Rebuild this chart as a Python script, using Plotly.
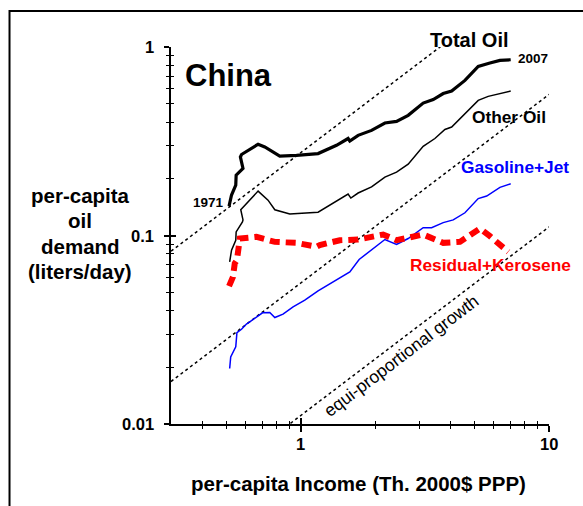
import math
import plotly.graph_objects as go

# ---------------- data ----------------
total_income = [0.514, 0.526, 0.547, 0.549, 0.585, 0.571, 0.577, 0.673, 0.716, 0.762,
                0.823, 0.961, 1.174, 1.393, 1.551, 1.576, 1.702, 1.928, 2.182, 2.431,
                2.708, 3.112, 3.416, 3.748, 4.053, 4.585, 5.186, 5.781, 6.344, 7.010]
total_oil = [0.143, 0.164, 0.185, 0.209, 0.227, 0.261, 0.269, 0.305, 0.295, 0.280,
             0.264, 0.266, 0.272, 0.301, 0.327, 0.317, 0.340, 0.361, 0.395, 0.403,
             0.434, 0.504, 0.526, 0.566, 0.584, 0.665, 0.789, 0.822, 0.849, 0.856]

other_income = [0.517, 0.526, 0.547, 0.549, 0.582, 0.585, 0.573, 0.673, 0.738, 0.786,
                0.903, 1.174, 1.551, 1.591, 1.702, 1.928, 2.182, 2.431, 2.708, 3.112,
                3.470, 3.807, 4.053, 4.585, 5.186, 5.689, 6.246, 7.010]
other_oil = [0.0725, 0.0836, 0.0944, 0.1045, 0.118, 0.121, 0.137, 0.172, 0.154, 0.137,
             0.130, 0.133, 0.166, 0.158, 0.168, 0.181, 0.204, 0.217, 0.239, 0.297,
             0.327, 0.365, 0.376, 0.443, 0.521, 0.547, 0.561, 0.584]

gas_income = [0.517, 0.522, 0.547, 0.553, 0.577, 0.604, 0.623, 0.701, 0.750, 0.786,
              0.848, 0.931, 1.038, 1.174, 1.576, 1.718, 2.182, 2.431, 2.708, 3.112,
              3.365, 3.748, 4.113, 4.585, 5.186, 5.609, 6.344, 7.010]
gasoline_jet = [0.0197, 0.0227, 0.0257, 0.0305, 0.0318, 0.0339, 0.0348, 0.0389, 0.0390, 0.0367,
                0.0383, 0.0418, 0.0454, 0.0509, 0.0641, 0.0746, 0.0952, 0.0896, 0.0964, 0.110,
                0.110, 0.117, 0.121, 0.132, 0.157, 0.162, 0.180, 0.188]

res_income = [0.514, 0.533, 0.542, 0.553, 0.568, 0.663, 0.786, 0.961, 1.157, 1.193,
              1.436, 1.702, 2.147, 2.431, 3.112, 3.748, 4.377, 5.270, 5.781, 6.855]
residual_kerosene = [0.0539, 0.0603, 0.0711, 0.0740, 0.0964, 0.0983, 0.0925, 0.0914, 0.0871, 0.0889,
                     0.0944, 0.0952, 0.1012, 0.0944, 0.1012, 0.0914, 0.0925, 0.109, 0.0992, 0.0819]

# equi-proportional growth guide lines: demand = k * income
guide_income = [0.3, 10]
guide_k = [0.275, 0.056, 0.0111]

x_major = [1, 10]
x_major_text = ["1", "10"]
x_minor = [0.4, 0.5, 0.6, 0.7, 0.8, 0.9, 2, 3, 4, 5, 6, 7, 8, 9]
y_major = [0.01, 0.1, 1]
y_major_text = ["0.01", "0.1", "1"]
y_minor = [0.02, 0.03, 0.04, 0.05, 0.06, 0.07, 0.08, 0.09,
           0.2, 0.3, 0.4, 0.5, 0.6, 0.7, 0.8, 0.9]

FONT = "Liberation Sans, Arial, Helvetica, sans-serif"

fig = go.Figure()

for k in guide_k:
    fig.add_trace(go.Scatter(
        x=guide_income, y=[k * v for v in guide_income], mode="lines",
        line=dict(color="black", width=1.5, dash="3px,3px"),
        hoverinfo="skip", showlegend=False))

fig.add_trace(go.Scatter(x=total_income, y=total_oil, mode="lines",
                         line=dict(color="black", width=3.2), showlegend=False))
fig.add_trace(go.Scatter(x=other_income, y=other_oil, mode="lines",
                         line=dict(color="black", width=1.5), showlegend=False))
fig.add_trace(go.Scatter(x=gas_income, y=gasoline_jet, mode="lines",
                         line=dict(color="#0000ff", width=1.5), showlegend=False))
fig.add_trace(go.Scatter(x=res_income, y=residual_kerosene, mode="lines",
                         line=dict(color="#ff0000", width=6, dash="10px,6px"),
                         showlegend=False))
# invisible trace on overlay axes (for crossing ticks)
fig.add_trace(go.Scatter(x=[None], y=[None], xaxis="x2", yaxis="y2",
                         showlegend=False, hoverinfo="skip"))

xr = [-0.5229, 1]
yr = [-2, 0]

fig.update_layout(
    width=583, height=506,
    margin=dict(l=171, r=34, t=47, b=82),
    paper_bgcolor="white", plot_bgcolor="white",
    font=dict(family=FONT, color="black"),
    xaxis=dict(type="log", range=xr, showgrid=False, zeroline=False,
               showline=True, linecolor="black", linewidth=2,
               ticks="outside", ticklen=6, tickwidth=1.5, tickcolor="black",
               tickvals=x_major, showticklabels=False,
               minor=dict(tickvals=x_minor, ticks="outside", ticklen=3,
                          tickwidth=1, tickcolor="black", showgrid=False)),
    yaxis=dict(type="log", range=yr, showgrid=False, zeroline=False,
               showline=True, linecolor="black", linewidth=2,
               ticks="outside", ticklen=5, tickwidth=1.5, tickcolor="black",
               tickvals=y_major, showticklabels=False,
               minor=dict(tickvals=y_minor, ticks="outside", ticklen=3,
                          tickwidth=1, tickcolor="black", showgrid=False)),
    xaxis2=dict(type="log", range=xr, overlaying="x", anchor="y", side="bottom",
                showgrid=False, zeroline=False, showline=False,
                ticks="inside", ticklen=6, tickwidth=1.5, tickcolor="black",
                tickvals=x_major, showticklabels=False,
                minor=dict(tickvals=x_minor, ticks="inside", ticklen=3,
                           tickwidth=1, tickcolor="black", showgrid=False)),
    yaxis2=dict(type="log", range=yr, overlaying="y", anchor="x", side="left",
                showgrid=False, zeroline=False, showline=False,
                ticks="inside", ticklen=5, tickwidth=1.5, tickcolor="black",
                tickvals=y_major, showticklabels=False,
                minor=dict(tickvals=y_minor, ticks="inside", ticklen=3,
                           tickwidth=1, tickcolor="black", showgrid=False)),
    showlegend=False,
)

TICK_SIZE = 16.5
# tick labels placed on the axes' own (log) coordinates
for v, t in zip(x_major, x_major_text):
    fig.add_annotation(text=t, x=math.log10(v), xref="x", y=-0.0536, yref="paper",
                       xanchor="center", yanchor="middle", showarrow=False,
                       font=dict(family=FONT, size=TICK_SIZE, color="black", weight="bold"))
for v, t in zip(y_major, y_major_text):
    fig.add_annotation(text=t, y=math.log10(v), yref="y", x=-0.0405, xref="paper",
                       xanchor="right", yanchor="middle", showarrow=False,
                       font=dict(family=FONT, size=TICK_SIZE, color="black", weight="bold"))

def note(text, x, y, size, color="black", bold=True, angle=0):
    fig.add_annotation(text=text, x=x, y=y, xref="paper", yref="paper",
                       xanchor="center", yanchor="middle", showarrow=False,
                       textangle=angle,
                       font=dict(family=FONT, size=size, color=color,
                                 weight="bold" if bold else "normal"))

note("China", 0.1516, 0.9257, 31)
note("Total Oil", 0.791, 1.0194, 20)
note("2007", 0.9585, 0.970, 13.5)
note("1971", 0.0979, 0.588, 13.5)
note("Other Oil", 0.8937, 0.8135, 17.3)
note("Gasoline+Jet", 0.9093, 0.6825, 17.3, color="#0000ff")
note("Residual+Kerosene", 0.8447, 0.4218, 17.3, color="#ff0000")
note("equi-proportional growth", 0.6085, 0.1804, 17.5, bold=False, angle=-37.2)

# axis titles
note("per-capita Income (Th. 2000$ PPP)", 0.4968, -0.159, 20.5)
for txt, yy in [("per-capita", 0.6048), ("oil", 0.5385),
                ("demand", 0.4721), ("(liters/day)", 0.4058)]:
    note(txt, -0.2407, yy, 20.5)

# outer frame
fig.add_shape(type="rect", xref="paper", yref="paper",
              x0=-0.4272, x1=1.3, y0=-0.4, y1=1.0955,
              line=dict(color="black", width=2), fillcolor="rgba(0,0,0,0)",
              layer="above")

fig.write_html("out.html")
